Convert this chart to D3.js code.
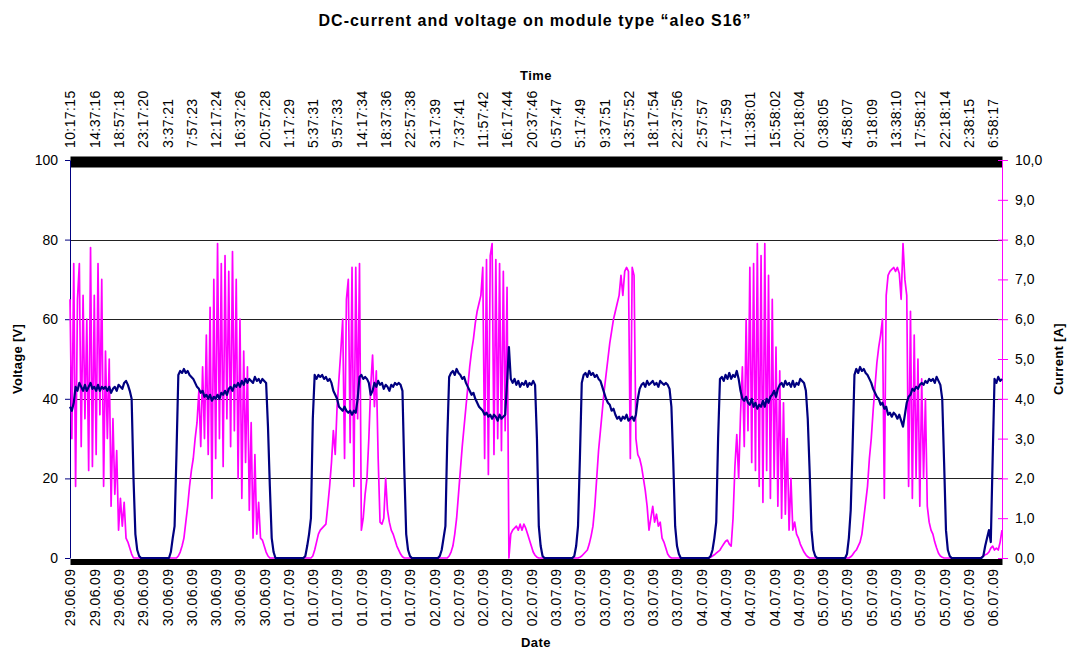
<!DOCTYPE html>
<html>
<head>
<meta charset="utf-8">
<script src="https://cdn.jsdelivr.net/npm/d3@7"></script>
<style>
  body { margin: 0; background: #fff; }
  svg { font-family: Arial, "Liberation Sans", sans-serif; }
</style>
</head>
<body>
<svg id="chart" width="1067" height="651"></svg>
<script>
// one sample every 20 minutes, starting 29.06.09 10:17:15
var voltage = [
  38,37,39,43,42,44,43,42,43.5,42,
  43,44,42.5,43,42,43.5,42,43,42.5,43,
  42,43,41.5,42.5,43,42,43.5,43,42.5,44,
  44.5,43.5,42,40,20,6,2,0.5,0,0,
  0,0,0,0,0,0,0,0,0,0,
  0,0,0,0,1.5,5,8,26,46,47,
  46.5,47.5,46.5,47,46,45.5,45,44,43,42.5,
  41.5,42,40.5,41,40,41,39.5,40.5,40,41,
  40,41.5,41,42,41,42.5,43,42,43.5,43,
  44,43,44.5,43.5,45,44,45,44.5,44,45.5,
  44.5,45,44,45,44.5,44,33,18,5,1.5,
  0,0,0,0,0,0,0,0,0,0,
  0,0,0,0,0,0,0.5,3,6,10,
  35,46,45,46,45.5,46,45,45.5,44.5,45,
  44,42,41,40,38,37.5,37,38,37,36.5,
  37,36,37,36.5,40,45.5,46,45,45.5,45,
  44,41,42,44,43,44.5,43.5,44,42.5,43.5,
  43,42,43.5,43,44,43.5,44,43.5,42,22,
  6,2,0.5,0,0,0,0,0,0,0,
  0,0,0,0,0,0,0,0,0.5,2,
  5,8,30,45.5,46.5,47,46,47.5,46.5,46,
  45,45.5,44,43,42,41,41.5,40,39,38,
  37.5,37,36,36.5,35.5,36,35,36,35.5,34.5,
  36,35,35.5,36,44,53,45,44,45,43.5,
  44.5,43,44,43.5,44.5,43,44,43.5,44.5,43.5,
  30,8,3,0.5,0,0,0,0,0,0,
  0,0,0,0,0,0,0,0,0,0,
  0.5,3,8,25,44,46,46.5,45.5,47,46,
  46.5,45.5,46,45,44.5,43,41.5,40,39,38.5,
  37,37.5,36,35,35.5,34.5,35.5,35,36,34.5,
  35,35.5,34.5,36,40,42.5,43.5,44,43,44.5,
  43.5,44,44.5,43.5,44,43,44.5,44,43.5,44,
  43.5,42.5,38,24,8,3,1,0,0,0,
  0,0,0,0,0,0,0,0,0,0,
  0,0,0,0.5,2,5,9,30,45,45.5,
  44.5,46,45,46.5,45,46,45.5,47,45,42,
  40,39.5,40.5,39,38.5,40,38,39,37.5,38.5,
  38,39.5,38,40,39,40.5,41,42,40.5,42.5,
  43.5,44,43,44.5,43.5,44,43,44.5,43,44,
  43.5,45,44.5,44,42,35,22,7,2,0.5,
  0,0,0,0,0,0,0,0,0,0,
  0,0,0,0,0,0,1,5,12,28,
  46,47.5,46.5,48,47,47.5,46.5,46,45,44,
  42.5,41.5,40.5,40,38.5,39,37.5,38,36,36.5,
  35.5,36.5,36,35,36,34.5,33,36,39,40.5,
  41,42.5,42,43,42.5,43.5,44,43.5,44.5,44,
  45,44.5,45,44,45.5,44.5,43.5,40,24,7,
  2,0.5,0,0,0,0,0,0,0,0,
  0,0,0,0,0,0,0,0,0,0.5,
  3,5,7,4,25,45,44,45.5,44.5,45
];

var current = [
  6.5,3.0,7.4,1.8,6.5,7.4,2.8,6.6,3.5,6.0,
  2.2,7.8,2.3,6.6,2.6,7.4,3.6,7.0,1.8,5.2,
  3.0,5.0,1.3,3.5,1.6,2.7,0.7,1.5,0.8,1.4,
  0.5,0.4,0.25,0.1,0,0,0,0,0,0,
  0,0,0,0,0,0,0,0,0,0,
  0,0,0,0,0,0,0,0,0.05,0.15,
  0.3,0.5,0.9,1.3,1.8,2.2,2.5,3.0,3.4,4.2,
  2.8,4.8,3.0,5.6,2.6,6.3,1.5,7.0,2.5,7.9,
  3.0,7.4,2.3,7.6,3.5,7.2,2.8,7.7,3.2,7.0,
  2.0,6.0,1.5,5.2,2.4,4.8,1.2,3.4,0.5,2.6,
  0.6,1.4,0.5,0.45,0.3,0.15,0.05,0,0,0,
  0,0,0,0,0,0,0,0,0,0,
  0,0,0,0,0,0,0,0,0,0,
  0.05,0.2,0.4,0.6,0.7,0.75,0.8,0.85,1.3,1.8,
  2.4,3.2,2.6,3.8,4.5,5.2,6.0,2.5,6.5,7.0,
  2.9,7.3,1.8,7.3,3.5,7.4,0.7,1.0,1.6,2.0,
  3.0,4.3,5.1,3.8,4.7,2.5,0.9,0.85,1.0,2.0,
  1.2,0.9,0.7,0.6,0.45,0.3,0.2,0.1,0.03,0,
  0,0,0,0,0,0,0,0,0,0,
  0,0,0,0,0,0,0,0,0,0,
  0,0,0,0.05,0.15,0.3,0.6,1.0,1.6,2.2,
  2.8,3.3,3.8,4.3,4.8,5.2,5.5,5.9,6.2,6.4,
  6.6,7.3,2.5,7.5,2.1,7.6,7.9,2.6,7.5,3.0,
  7.4,2.7,7.2,3.2,6.8,0,0.6,0.7,0.75,0.8,
  0.7,0.85,0.7,0.85,0.75,0.6,0.45,0.3,0.15,0.07,
  0.02,0,0,0,0,0,0,0,0,0,
  0,0,0,0,0,0,0,0,0,0,
  0,0,0,0.02,0.05,0.1,0.15,0.2,0.35,0.55,
  0.8,1.3,2.0,2.7,3.2,3.7,4.2,4.6,5.0,5.4,
  5.7,6.0,6.2,6.4,6.6,7.1,6.6,7.2,7.3,7.2,
  2.5,7.3,7.1,3.0,2.6,2.5,2.3,2.0,1.7,1.3,
  0.7,1.0,1.3,0.9,1.1,0.8,0.9,0.5,0.4,0.25,
  0.1,0.03,0,0,0,0,0,0,0,0,
  0,0,0,0,0,0,0,0,0,0,
  0,0,0,0.02,0.05,0.08,0.12,0.16,0.2,0.28,
  0.35,0.42,0.45,0.35,0.3,1.0,2.3,3.1,2.0,3.6,
  4.8,2.8,6.0,3.2,7.3,2.4,7.4,2.2,7.9,1.8,
  7.6,1.4,7.9,2.2,7.1,1.5,6.5,2.0,5.3,1.3,
  4.7,1.0,3.9,1.1,3.0,0.7,2.0,0.7,0.9,0.6,
  0.5,0.35,0.25,0.15,0.08,0.03,0,0,0,0,
  0,0,0,0,0,0,0,0,0,0,
  0,0,0,0,0,0,0,0,0.03,0.08,
  0.15,0.2,0.3,0.4,0.6,1.0,1.4,1.8,2.5,3.0,
  3.7,4.3,4.9,5.3,5.6,6.0,1.5,6.6,7.1,7.2,
  7.25,7.3,7.2,7.3,7.15,6.5,7.9,7.0,6.6,1.8,
  6.2,1.5,5.6,2.0,5.0,1.3,4.5,2.0,4.0,1.3,
  0.9,0.7,0.6,0.4,0.25,0.12,0.05,0.02,0,0,
  0,0,0,0,0,0,0,0,0,0,
  0,0,0,0,0,0,0,0,0.02,0.05,
  0.08,0.1,0.15,0.25,0.3,0.2,0.25,0.2,0.4,0.7
];

// category labels, one every 13 samples (4 h 20 min)
var timeLabels = ["10:17:15","14:37:16","18:57:18","23:17:20","3:37:21","7:57:23","12:17:24",
  "16:37:26","20:57:28","1:17:29","5:37:31","9:57:33","14:17:34","18:37:36","22:57:38",
  "3:17:39","7:37:41","11:57:42","16:17:44","20:37:46","0:57:47","5:17:49","9:37:51",
  "13:57:52","18:17:54","22:37:56","2:57:57","7:17:59","11:38:01","15:58:02","20:18:04",
  "0:38:05","4:58:07","9:18:09","13:38:10","17:58:12","22:18:14","2:38:15","6:58:17"];

var dateLabels = ["29.06.09","29.06.09","29.06.09","29.06.09",
  "30.06.09","30.06.09","30.06.09","30.06.09","30.06.09",
  "01.07.09","01.07.09","01.07.09","01.07.09","01.07.09","01.07.09",
  "02.07.09","02.07.09","02.07.09","02.07.09","02.07.09",
  "03.07.09","03.07.09","03.07.09","03.07.09","03.07.09","03.07.09",
  "04.07.09","04.07.09","04.07.09","04.07.09","04.07.09",
  "05.07.09","05.07.09","05.07.09","05.07.09","05.07.09","05.07.09",
  "06.07.09","06.07.09"];

var labelEvery = 13;
var voltTicks = [0, 20, 40, 60, 80, 100];
var currTicks = [0, 1, 2, 3, 4, 5, 6, 7, 8, 9, 10];

var margin = {top: 160, right: 65, bottom: 93, left: 70};
var svg = d3.select("#chart");
var W = +svg.attr("width"), H = +svg.attr("height");
var width = W - margin.left - margin.right,
    height = H - margin.top - margin.bottom;

var x = d3.scaleLinear().domain([0, voltage.length - 1]).range([margin.left, margin.left + width]);
var yV = d3.scaleLinear().domain([0, 100]).range([margin.top + height, margin.top]);
var yI = d3.scaleLinear().domain([0, 10]).range([margin.top + height, margin.top]);

var tickIdx = timeLabels.map(function (d, i) { return i * labelEvery; });

// title
svg.append("text")
    .attr("x", 535).attr("y", 26)
    .style("text-anchor", "middle")
    .style("font-weight", "bold").style("font-size", "16px")
    .style("letter-spacing", "1px")
    .text("DC-current and voltage on module type \u201Caleo S16\u201D");

// gridlines
svg.append("g").selectAll("line")
    .data(voltTicks.filter(function (d) { return d > 0 && d < 100; }))
    .enter().append("line")
    .attr("x1", margin.left).attr("x2", margin.left + width)
    .attr("y1", function (d) { return Math.round(yV(d)) + 0.5; })
    .attr("y2", function (d) { return Math.round(yV(d)) + 0.5; })
    .attr("stroke", "#222").attr("stroke-width", 1);

// top axis (time)
var topAxis = svg.append("g")
    .attr("transform", "translate(0," + (margin.top + 1.5) + ")")
    .call(d3.axisTop(x).tickValues(tickIdx).tickSize(0).tickSizeOuter(0)
        .tickFormat(function (d, i) { return timeLabels[i]; }));
topAxis.select(".domain").attr("stroke", "#000").attr("stroke-width", 11);
topAxis.selectAll("text")
    .attr("transform", "rotate(-90)")
    .attr("x", 13.5).attr("y", 0).attr("dy", "0.35em")
    .style("text-anchor", "start")
    .style("font-size", "14px").style("letter-spacing", "0.4px")
    .style("font-family", "Arial, 'Liberation Sans', sans-serif")
    .attr("fill", "#000");

// bottom axis (date)
var botAxis = svg.append("g")
    .attr("transform", "translate(0," + (margin.top + height + 3.5) + ")")
    .call(d3.axisBottom(x).tickValues(tickIdx).tickSize(0).tickSizeOuter(0)
        .tickFormat(function (d, i) { return dateLabels[i]; }));
botAxis.select(".domain").attr("stroke", "#000").attr("stroke-width", 6);
botAxis.selectAll("text")
    .attr("transform", "rotate(-90)")
    .attr("x", -7).attr("y", 0).attr("dy", "0.35em")
    .style("text-anchor", "end")
    .style("font-size", "14px").style("letter-spacing", "0.4px")
    .style("font-family", "Arial, 'Liberation Sans', sans-serif")
    .attr("fill", "#000");

// left axis (voltage)
var leftAxis = svg.append("g")
    .attr("transform", "translate(" + margin.left + ",0)")
    .call(d3.axisLeft(yV).tickValues(voltTicks).tickSize(5).tickPadding(7).tickSizeOuter(0));
leftAxis.select(".domain").attr("stroke", "#000080");
leftAxis.selectAll(".tick line").attr("stroke", "#000080");
leftAxis.selectAll("text")
    .style("font-size", "14px")
    .style("font-family", "Arial, 'Liberation Sans', sans-serif")
    .attr("fill", "#000");

// right axis (current)
var rightAxis = svg.append("g")
    .attr("transform", "translate(" + (margin.left + width) + ",0)")
    .call(d3.axisRight(yI).tickValues(currTicks).tickSize(6).tickPadding(7).tickSizeOuter(0)
        .tickFormat(function (d) { return d3.format(".1f")(d).replace(".", ","); }));
rightAxis.select(".domain").attr("stroke", "#ff00ff");
rightAxis.selectAll(".tick line").attr("stroke", "#ff00ff").attr("x1", -4);
rightAxis.selectAll("text")
    .style("font-size", "14px")
    .style("font-family", "Arial, 'Liberation Sans', sans-serif")
    .attr("fill", "#000");

// series
var lineI = d3.line()
    .x(function (d, i) { return x(i); })
    .y(function (d) { return yI(d); });
var lineV = d3.line()
    .x(function (d, i) { return x(i); })
    .y(function (d) { return yV(d); });

svg.append("path")
    .datum(current)
    .attr("d", lineI)
    .attr("fill", "none")
    .attr("stroke", "#ff00ff")
    .attr("stroke-width", 1.7)
    .attr("stroke-linejoin", "round");

svg.append("path")
    .datum(voltage)
    .attr("d", lineV)
    .attr("fill", "none")
    .attr("stroke", "#000080")
    .attr("stroke-width", 2.2)
    .attr("stroke-linejoin", "round");

// axis titles
svg.append("text")
    .attr("x", margin.left + width / 2).attr("y", 80)
    .style("text-anchor", "middle").style("font-weight", "bold").style("font-size", "13px")
    .style("letter-spacing", "0.5px")
    .text("Time");
svg.append("text")
    .attr("x", margin.left + width / 2).attr("y", 647)
    .style("text-anchor", "middle").style("font-weight", "bold").style("font-size", "13px")
    .style("letter-spacing", "0.5px")
    .text("Date");
svg.append("text")
    .attr("transform", "translate(22," + (margin.top + height / 2) + ") rotate(-90)")
    .style("text-anchor", "middle").style("font-weight", "bold").style("font-size", "13px")
    .style("letter-spacing", "0.3px")
    .text("Voltage [V]");
svg.append("text")
    .attr("transform", "translate(1063," + (margin.top + height / 2) + ") rotate(-90)")
    .style("text-anchor", "middle").style("font-weight", "bold").style("font-size", "13px")
    .style("letter-spacing", "0.3px")
    .text("Current [A]");
</script>
</body>
</html>
